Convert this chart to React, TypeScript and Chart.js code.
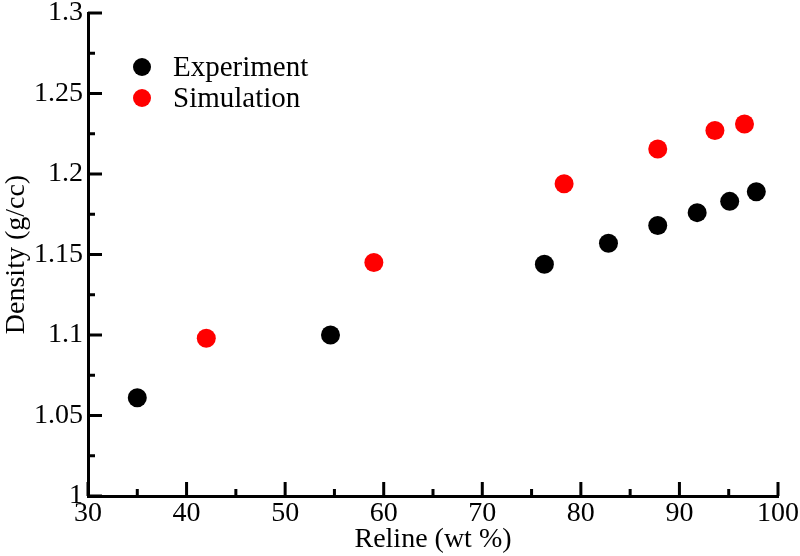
import React, { useEffect, useRef } from "react";
import { Chart, registerables } from "chart.js";

Chart.register(...registerables);

const expX = [35.0, 54.6, 76.3, 82.8, 87.8, 91.8, 95.1, 97.8];
const expY = [1.061, 1.1, 1.144, 1.157, 1.168, 1.176, 1.183, 1.189];
const simX = [42.0, 59.0, 78.3, 87.8, 93.6, 96.6];
const simY = [1.098, 1.145, 1.194, 1.2155, 1.227, 1.231];
const seriesNames = ["Experiment", "Simulation"];
const seriesColors = ["#000000", "#ff0000"];
const xTicks = [30, 40, 50, 60, 70, 80, 90, 100];
const yTicks = [1, 1.05, 1.1, 1.15, 1.2, 1.25, 1.3];
const xTitle = "Reline (wt %)";
const yTitle = "Density (g/cc)";

const FONT = "'Liberation Serif', 'Times New Roman', serif";

const tickPlugin = {
  id: "inwardTicks",
  afterDraw(chart: any) {
    const ctx = chart.ctx;
    const xs = chart.scales.x;
    const ys = chart.scales.y;
    const area = chart.chartArea;
    ctx.save();
    ctx.strokeStyle = "#000";
    ctx.lineWidth = 3;
    ctx.beginPath();
    for (let i = 0; i < xTicks.length; i++) {
      const p = xs.getPixelForValue(xTicks[i]);
      ctx.moveTo(p, area.bottom);
      ctx.lineTo(p, area.bottom - 14);
      if (i < xTicks.length - 1) {
        const m = xs.getPixelForValue((xTicks[i] + xTicks[i + 1]) / 2);
        ctx.moveTo(m, area.bottom);
        ctx.lineTo(m, area.bottom - 7);
      }
    }
    for (let i = 0; i < yTicks.length; i++) {
      const p = ys.getPixelForValue(yTicks[i]);
      ctx.moveTo(area.left, p);
      ctx.lineTo(area.left + 14, p);
      if (i < yTicks.length - 1) {
        const m = ys.getPixelForValue((yTicks[i] + yTicks[i + 1]) / 2);
        ctx.moveTo(area.left, m);
        ctx.lineTo(area.left + 7, m);
      }
    }
    ctx.stroke();

    // legend
    const lx = area.left + 54;
    const ly = [67, 98];
    ctx.font = `29px ${FONT}`;
    ctx.textBaseline = "middle";
    ctx.textAlign = "left";
    for (let i = 0; i < seriesNames.length; i++) {
      ctx.fillStyle = seriesColors[i];
      ctx.beginPath();
      ctx.arc(lx, ly[i], 9, 0, Math.PI * 2);
      ctx.fill();
      ctx.fillStyle = "#000";
      ctx.fillText(seriesNames[i], lx + 31, ly[i] + 1);
    }
    ctx.restore();
  },
};

export default function App() {
  const ref = useRef<HTMLCanvasElement>(null);
  useEffect(() => {
    document.body.style.margin = "0";
    const chart = new Chart(ref.current!, {
      type: "scatter",
      data: {
        datasets: [
          {
            label: seriesNames[0],
            data: expX.map((x, i) => ({ x, y: expY[i] })),
            backgroundColor: seriesColors[0],
            borderColor: seriesColors[0],
            pointRadius: 9.5,
            borderWidth: 0,
          },
          {
            label: seriesNames[1],
            data: simX.map((x, i) => ({ x, y: simY[i] })),
            backgroundColor: seriesColors[1],
            borderColor: seriesColors[1],
            pointRadius: 9.5,
            borderWidth: 0,
          },
        ],
      },
      options: {
        animation: false,
        responsive: false,
        layout: { padding: { top: 13, right: 22, left: 0, bottom: 0 } },
        plugins: {
          legend: { display: false },
          tooltip: { enabled: false },
        },
        scales: {
          x: {
            type: "linear",
            min: 30,
            max: 100,
            afterFit: (s: any) => {
              s.height = 60;
              s.paddingLeft = 0;
              s.paddingRight = 0;
            },
            afterBuildTicks: (s: any) => {
              s.ticks = xTicks.map((v) => ({ value: v }));
            },
            grid: { display: false, drawTicks: false, tickLength: 0 },
            border: { display: true, color: "#000", width: 3 },
            ticks: {
              color: "#000",
              font: { family: FONT, size: 28 },
              padding: 1,
              maxRotation: 0,
              autoSkip: false,
            },
            title: {
              display: true,
              text: xTitle,
              color: "#000",
              font: { family: FONT, size: 28 },
              padding: { top: -4, bottom: 0 },
            },
          },
          y: {
            type: "linear",
            min: 1,
            max: 1.3,
            afterFit: (s: any) => {
              s.width = 88;
              s.paddingTop = 0;
              s.paddingBottom = 0;
            },
            afterBuildTicks: (s: any) => {
              s.ticks = yTicks.map((v) => ({ value: v }));
            },
            grid: { display: false, drawTicks: false, tickLength: 0 },
            border: { display: true, color: "#000", width: 3 },
            ticks: {
              color: "#000",
              font: { family: FONT, size: 28 },
              padding: 5,
              autoSkip: false,
              callback: (v: any) => String(Math.round(Number(v) * 100) / 100),
            },
            title: {
              display: true,
              text: yTitle,
              color: "#000",
              font: { family: FONT, size: 28 },
              padding: { top: 0, bottom: 2 },
            },
          },
        },
      },
      plugins: [tickPlugin],
    });
    return () => chart.destroy();
  }, []);
  return <canvas ref={ref} width={800} height={556} style={{ display: "block" }} />;
}
